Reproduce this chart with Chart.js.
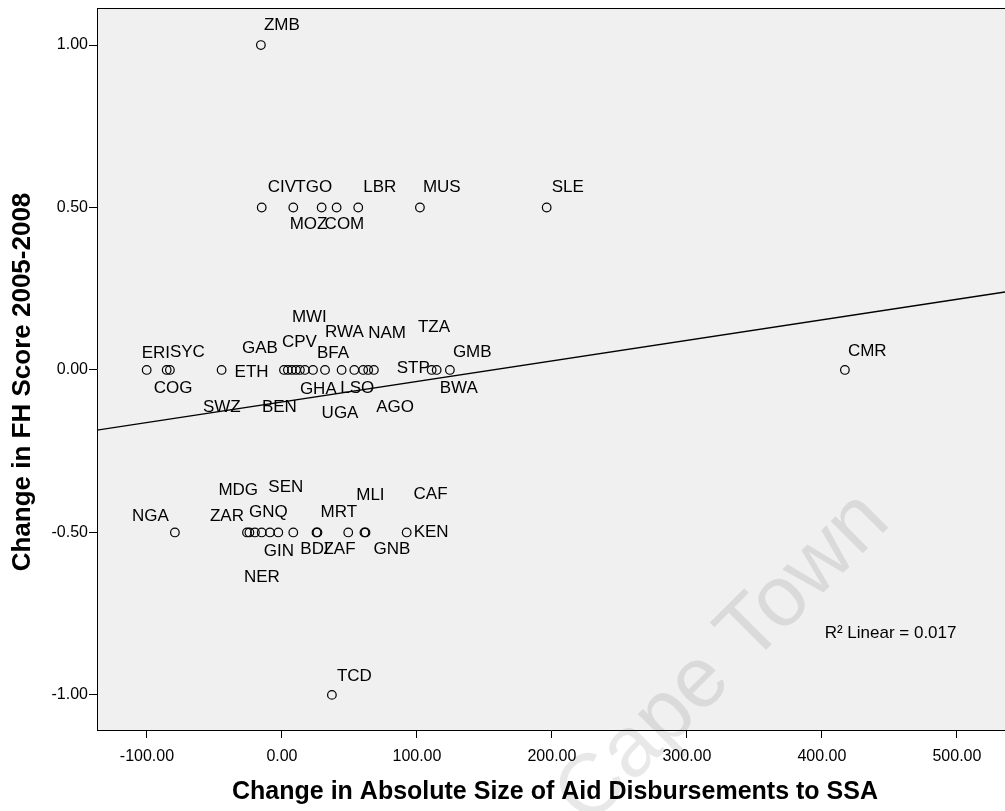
<!DOCTYPE html>
<html>
<head>
<meta charset="utf-8">
<script src="https://cdn.jsdelivr.net/npm/chart.js@4.4.1/dist/chart.umd.min.js"></script>
<style>
  html, body { margin: 0; padding: 0; background: #ffffff; }
  canvas { display: block; }
</style>
</head>
<body>
<canvas id="chart" width="1005" height="811"></canvas>
<script>
// Country codes (ISO3) for each Sub-Saharan African country
const countries = [
  'ZMB',
  'CIV', 'TGO', 'MOZ', 'COM', 'LBR', 'MUS', 'SLE',
  'ERI', 'COG', 'SYC', 'ETH', 'GAB', 'SWZ', 'BEN', 'CPV', 'MWI', 'GHA', 'BFA',
  'RWA', 'UGA', 'LSO', 'NAM', 'AGO', 'TZA', 'STP', 'BWA', 'GMB', 'CMR',
  'NGA', 'ZAR', 'MDG', 'NER', 'GIN', 'GNQ', 'SEN', 'BDI', 'MRT', 'ZAF',
  'MLI', 'GNB', 'CAF', 'KEN',
  'TCD'
];

// Change in absolute size of aid disbursements
const aidChange = [
  -15.6,
  -15.0, 8.4, 29.4, 40.5, 56.5, 102.2, 196.1,
  -100.2, -85.4, -83.0, -44.7, 1.5, 4.4, 7.4, 10.4, 13.3, 17.0, 23.0,
  31.9, 44.2, 53.6, 60.2, 63.9, 68.1, 110.9, 114.6, 124.4, 417.0,
  -79.3, -25.9, -24.1, -20.0, -15.0, -8.9, -2.7, 8.4, 25.6, 26.3,
  49.1, 61.1, 61.9, 92.4,
  37.0
];

// Change in Freedom House score 2005-2008
const fhChange = [
  1.0,
  0.5, 0.5, 0.5, 0.5, 0.5, 0.5, 0.5,
  0, 0, 0, 0, 0, 0, 0, 0, 0, 0, 0,
  0, 0, 0, 0, 0, 0, 0, 0, 0, 0,
  -0.5, -0.5, -0.5, -0.5, -0.5, -0.5, -0.5, -0.5, -0.5, -0.5,
  -0.5, -0.5, -0.5, -0.5,
  -1.0
];

// Axis ticks
const xTickValues = [-100, 0, 100, 200, 300, 400, 500];
const yTickValues = [-1.0, -0.5, 0.0, 0.5, 1.0];

// Fitted linear trend, evaluated at the two ends of the x range
const fitX = [-137, 535.6];
const fitY = [-0.185, 0.240];
const fitLabel = 'R\u00B2 Linear = 0.017';

// Where each country code sits relative to its marker (pixels)
const labelOffset = {
  ZMB: [3, -20], CIV: [6, -20], TGO: [2, -20], MOZ: [-32, 17], COM: [-12, 17],
  LBR: [5, -20], MUS: [3, -20], SLE: [5, -20],
  ERI: [-5, -17], COG: [-13, 18], SYC: [0, -18], ETH: [13, 2], GAB: [-42, -22],
  SWZ: [-85, 37], BEN: [-30, 37], CPV: [-14, -28], MWI: [-8, -53], GHA: [-5, 19],
  BFA: [4, -17], RWA: [0, -38], UGA: [-20, 43], LSO: [-14, 18], NAM: [5, -37],
  AGO: [8, 37], TZA: [44, -43], STP: [-35, -2], BWA: [3, 18], GMB: [3, -18],
  CMR: [3, -19],
  NGA: [-43, -16], ZAR: [-37, -16], MDG: [-31, -42], NER: [-11, 45], GIN: [2, 19],
  GNQ: [-21, -20], SEN: [-10, -45], BDI: [7, 17], MRT: [4, -20], ZAF: [6, 17],
  MLI: [8, -37], GNB: [9, 17], CAF: [48, -38], KEN: [7, 0],
  TCD: [5, -19]
};

const FONT = '"Liberation Sans", Arial, Helvetica, sans-serif';

const points = aidChange.map((x, i) => ({ x: x, y: fhChange[i] }));
const fitLine = fitX.map((x, i) => ({ x: x, y: fitY[i] }));

const plotDecor = {
  id: 'plotDecor',
  beforeDraw(chart) {
    const { ctx, chartArea: a } = chart;
    ctx.save();
    ctx.fillStyle = '#f0f0f0';
    ctx.fillRect(a.left, a.top, a.right - a.left, a.bottom - a.top);
    ctx.restore();
  },
  afterDatasetsDraw(chart) {
    const { ctx, chartArea: a } = chart;
    const meta = chart.getDatasetMeta(0);
    ctx.save();
    ctx.fillStyle = '#000';
    ctx.font = '17px ' + FONT;
    ctx.textAlign = 'left';
    ctx.textBaseline = 'middle';
    meta.data.forEach((pt, i) => {
      const off = labelOffset[countries[i]] || [4, -18];
      ctx.fillText(countries[i], pt.x + off[0], pt.y + off[1]);
    });
    const xs = chart.scales.x, ys = chart.scales.y;
    ctx.font = '17px ' + FONT;
    ctx.fillText(fitLabel, xs.getPixelForValue(402), ys.getPixelForValue(-0.81));
    // top edge of the plot frame
    ctx.strokeStyle = '#000';
    ctx.lineWidth = 1;
    ctx.beginPath();
    ctx.moveTo(a.left, Math.round(a.top) + 0.5);
    ctx.lineTo(a.right, Math.round(a.top) + 0.5);
    ctx.stroke();
    ctx.restore();
  },
  afterDraw(chart) {
    const { ctx } = chart;
    ctx.save();
    ctx.fillStyle = '#000';
    ctx.textAlign = 'center';
    ctx.textBaseline = 'middle';
    ctx.font = 'bold 25px ' + FONT;
    ctx.fillText('Change in Absolute Size of Aid Disbursements to SSA', 555, 792);
    ctx.translate(23, 382);
    ctx.rotate(-Math.PI / 2);
    ctx.font = 'bold 26px ' + FONT;
    ctx.fillText('Change in FH Score 2005-2008', 0, 0);
    ctx.restore();

    // faint institutional watermark
    ctx.save();
    ctx.translate(588, 828);
    ctx.rotate(-Math.PI / 4);
    ctx.font = '86px ' + FONT;
    ctx.fillStyle = 'rgba(0,0,0,0.09)';
    ctx.textAlign = 'left';
    ctx.textBaseline = 'alphabetic';
    ctx.fillText('Cape Town', 0, 0);
    ctx.restore();
  }
};

new Chart(document.getElementById('chart'), {
  type: 'scatter',
  data: {
    datasets: [
      {
        data: points,
        pointStyle: 'circle',
        pointRadius: 4.3,
        pointBorderWidth: 1.2,
        pointBorderColor: '#000',
        pointBackgroundColor: 'rgba(0,0,0,0)',
        pointHoverRadius: 4.3,
        clip: false
      },
      {
        data: fitLine,
        showLine: true,
        borderColor: '#000',
        borderWidth: 1.3,
        pointRadius: 0,
        pointHoverRadius: 0,
        fill: false
      }
    ]
  },
  options: {
    responsive: false,
    devicePixelRatio: 1,
    animation: false,
    events: [],
    layout: { autoPadding: false, padding: { top: 8, right: 0, left: 0, bottom: 0 } },
    plugins: { legend: { display: false }, tooltip: { enabled: false } },
    scales: {
      x: {
        type: 'linear',
        position: 'bottom',
        min: fitX[0],
        max: fitX[1],
        afterBuildTicks: s => { s.ticks = xTickValues.map(v => ({ value: v })); },
        afterFit: s => { s.height = 81; s.paddingLeft = 0; s.paddingRight = 0; },
        ticks: {
          callback: v => Number(v).toFixed(2),
          color: '#000',
          font: { family: FONT, size: 16 },
          padding: 9,
          maxRotation: 0,
          autoSkip: false
        },
        grid: { drawOnChartArea: false, drawTicks: true, tickLength: 8, color: '#000', lineWidth: 1 },
        border: { display: true, color: '#000', width: 1 }
      },
      y: {
        type: 'linear',
        min: -1.108,
        max: 1.114,
        afterBuildTicks: s => { s.ticks = yTickValues.map(v => ({ value: v })); },
        afterFit: s => { s.width = 97; s.paddingTop = 0; s.paddingBottom = 0; },
        ticks: {
          callback: v => Number(v).toFixed(2),
          color: '#000',
          font: { family: FONT, size: 16 },
          padding: 1,
          autoSkip: false
        },
        grid: { drawOnChartArea: false, drawTicks: true, tickLength: 8, color: '#000', lineWidth: 1 },
        border: { display: true, color: '#000', width: 1 }
      }
    }
  },
  plugins: [plotDecor]
});
</script>
</body>
</html>
